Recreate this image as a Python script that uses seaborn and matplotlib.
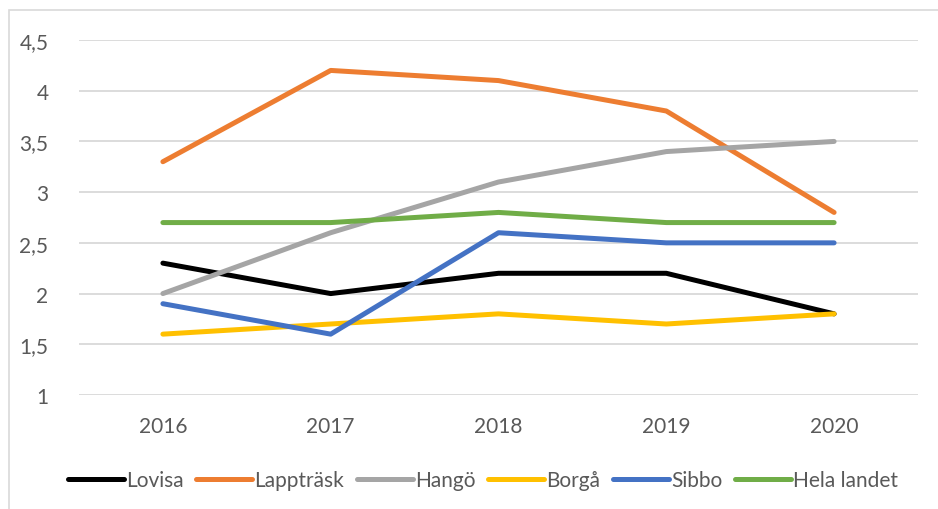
import pandas as pd
import numpy as np
import matplotlib.pyplot as plt
import seaborn as sns
from matplotlib.patches import Rectangle
from matplotlib.ticker import FuncFormatter

# === DATA ===
years = ["2016", "2017", "2018", "2019", "2020"]
lovisa = [2.3, 2.0, 2.2, 2.2, 1.8]
lapptrask = [3.3, 4.2, 4.1, 3.8, 2.8]
hango = [2.0, 2.6, 3.1, 3.4, 3.5]
borga = [1.6, 1.7, 1.8, 1.7, 1.8]
sibbo = [1.9, 1.6, 2.6, 2.5, 2.5]
hela_landet = [2.7, 2.7, 2.8, 2.7, 2.7]

series = {
    "Lovisa": lovisa,
    "Lappträsk": lapptrask,
    "Hangö": hango,
    "Borgå": borga,
    "Sibbo": sibbo,
    "Hela landet": hela_landet,
}
colors = ["#000000", "#ED7D31", "#A5A5A5", "#FFC000", "#4472C4", "#70AD47"]

rows = []
for name, vals in series.items():
    for i, v in enumerate(vals):
        rows.append({"kommun": name, "pos": i, "varde": v})
df = pd.DataFrame(rows)

# === STIL ===
sns.set_style("white")
plt.rcParams["font.family"] = ["Lato", "DejaVu Sans"]
textfarg = "#595959"

fig = plt.figure(figsize=(9.38, 5.10), dpi=100)
ax = fig.add_axes([79 / 938, 1 - 396 / 510, (918 - 79) / 938, (396 - 41) / 510])

sns.lineplot(data=df, x="pos", y="varde", hue="kommun", palette=colors,
             linewidth=3.6, ax=ax, solid_capstyle="round", zorder=3)

ax.set_xlim(-0.5, 4.5)
ax.set_ylim(1, 4.5)
ax.set_yticks(np.arange(1, 4.51, 0.5))
ax.yaxis.set_major_formatter(FuncFormatter(lambda v, p: f"{v:g}".replace(".", ",")))
ax.set_xticks(range(len(years)))
ax.set_xticklabels(years)
ax.set_xlabel("")
ax.set_ylabel("")
ax.grid(axis="y", color="#D9D9D9", linewidth=1.3)
ax.grid(axis="x", visible=False)
for s in ax.spines.values():
    s.set_visible(False)
ax.tick_params(axis="both", length=0, labelsize=15, colors=textfarg)
ax.tick_params(axis="y", pad=22)
ax.tick_params(axis="x", pad=15)

sns.move_legend(ax, "center", bbox_to_anchor=(0.515, 1 - 481 / 510),
                bbox_transform=fig.transFigure, ncol=6, frameon=False,
                title=None, fontsize=15, handlelength=2.7, handletextpad=0.1,
                columnspacing=0.6)
for t in ax.get_legend().get_texts():
    t.set_color(textfarg)
for h in ax.get_legend().get_lines():
    h.set_solid_capstyle("round")

# diagramram
fig.patches.append(Rectangle((9 / 938, -0.5), 2, 0.5 + 1 - 11 / 510,
                             transform=fig.transFigure, fill=False,
                             edgecolor="#D9D9D9", linewidth=1.2))

fig.savefig("out.png", dpi=100)
